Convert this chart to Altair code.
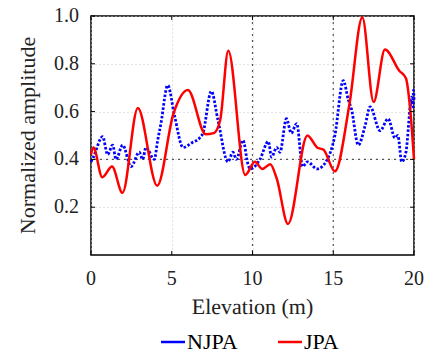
import altair as alt
import pandas as pd

# ---- data ----
jpa_x = [0, 0.15, 0.7, 1.3, 1.95, 2.9, 4.1, 5.1, 6.0, 7.1, 7.6, 8.0, 8.5, 9.55, 10.15,
         10.6, 11.1, 11.5, 12.2, 13.4, 14.0, 14.4, 15.1, 16.0, 16.8, 17.5, 18.2, 19.1,
         19.5, 19.75, 20.0]
jpa_y = [0.42, 0.45, 0.325, 0.37, 0.26, 0.615, 0.29, 0.59, 0.69, 0.505, 0.51, 0.565,
         0.855, 0.335, 0.39, 0.36, 0.38, 0.32, 0.13, 0.50, 0.45, 0.44, 0.35, 0.63, 0.995,
         0.64, 0.86, 0.77, 0.74, 0.62, 0.40]

njpa_x = [0, 0.15, 0.72, 1.03, 1.34, 1.55, 1.96, 2.48, 2.99, 3.2, 3.4, 3.92, 4.13, 4.33,
          4.75, 5.18, 5.7, 6.26, 6.73, 6.93, 7.45, 7.86, 8.48, 8.79, 9.0, 9.41, 9.72,
          9.85, 10.46, 10.98, 11.18, 11.5, 11.7, 12.1, 12.4, 12.74, 13.1, 13.4, 14.0,
          14.55, 15.1, 15.62, 15.93, 16.13, 16.55, 16.97, 17.28, 17.9, 18.4, 18.82, 19.0,
          19.24, 19.5, 19.86, 19.93, 19.97, 20.0]
njpa_y = [0.39, 0.41, 0.495, 0.42, 0.46, 0.40, 0.46, 0.37, 0.43, 0.40, 0.45, 0.40, 0.48,
          0.55, 0.71, 0.58, 0.45, 0.47, 0.49, 0.51, 0.685, 0.565, 0.39, 0.43, 0.40, 0.48,
          0.38, 0.36, 0.40, 0.475, 0.41, 0.45, 0.43, 0.57, 0.51, 0.55, 0.37, 0.39, 0.36,
          0.39, 0.50, 0.73, 0.65, 0.61, 0.46, 0.54, 0.62, 0.52, 0.57, 0.49, 0.50, 0.39,
          0.43, 0.66, 0.62, 0.69, 0.65]

series_names = ["NJPA", "JPA"]
series_colors = ["#0000ff", "#ff0000"]
x_ticks = [0, 5, 10, 15, 20]
y_ticks = [0.2, 0.4, 0.6, 0.8, 1.0]
ref_x = [10, 15]
ref_y = [0.4]
x_title = "Elevation (m)"
y_title = "Normalized amplitude"

FONT = "Liberation Serif"
TXT = "#222222"
W, H = 323, 239

df_j = pd.DataFrame({"x": jpa_x, "y": jpa_y, "s": series_names[1]})
df_n = pd.DataFrame({"x": njpa_x, "y": njpa_y, "s": series_names[0]})

xs = alt.Scale(domain=[0, 20], nice=False)
ys = alt.Scale(domain=[0, 1.0], nice=False)
cs = alt.Scale(domain=series_names, range=series_colors)

xaxis = alt.Axis(values=x_ticks, title=None, labels=False, ticks=False, domain=False, grid=True)
yaxis = alt.Axis(values=y_ticks, title=None, labels=False, ticks=False, domain=False, grid=True)

base_frame = alt.Chart(pd.DataFrame({"v": [0]})).mark_point(opacity=0).encode(
    x=alt.X("v:Q", scale=xs, axis=xaxis),
    y=alt.Y("v:Q", scale=ys, axis=yaxis),
)

rx = alt.Chart(pd.DataFrame({"v": ref_x})).mark_rule(
    color="#555555", strokeDash=[2, 4], strokeWidth=1.2
).encode(x=alt.X("v:Q", scale=xs))
ry = alt.Chart(pd.DataFrame({"v": ref_y})).mark_rule(
    color="#555555", strokeDash=[2, 4], strokeWidth=1.2
).encode(y=alt.Y("v:Q", scale=ys))

red = alt.Chart(df_j).mark_line(strokeWidth=2.5, interpolate="monotone").encode(
    x=alt.X("x:Q", scale=xs),
    y=alt.Y("y:Q", scale=ys),
    color=alt.Color("s:N", scale=cs, legend=None),
)
blue = alt.Chart(df_n).mark_line(strokeWidth=2.8, interpolate="monotone",
                                 strokeDash=[2.5, 1.8]).encode(
    x=alt.X("x:Q", scale=xs),
    y=alt.Y("y:Q", scale=ys),
    color=alt.Color("s:N", scale=cs, legend=None),
)

# inward tick marks on all four sides
ytk = pd.DataFrame({"v": y_ticks})
xtk = pd.DataFrame({"v": x_ticks})
tl = alt.Chart(ytk).mark_rule(color="black", strokeWidth=1).encode(
    y=alt.Y("v:Q", scale=ys), x=alt.value(0), x2=alt.value(4))
tr = alt.Chart(ytk).mark_rule(color="black", strokeWidth=1).encode(
    y=alt.Y("v:Q", scale=ys), x=alt.value(W - 4), x2=alt.value(W))
tb = alt.Chart(xtk).mark_rule(color="black", strokeWidth=1).encode(
    x=alt.X("v:Q", scale=xs), y=alt.value(H), y2=alt.value(H - 4))
tt = alt.Chart(xtk).mark_rule(color="black", strokeWidth=1).encode(
    x=alt.X("v:Q", scale=xs), y=alt.value(0), y2=alt.value(4))

# tick labels and titles as text marks
xlab = alt.Chart(xtk).mark_text(font="Times New Roman", fontSize=20, color=TXT, align="center",
                                baseline="alphabetic").encode(
    x=alt.X("v:Q", scale=xs), y=alt.value(H + 30),
    text=alt.Text("v:Q", format="d"))
ylab = alt.Chart(ytk).mark_text(font="serif", fontSize=20, color=TXT, align="right",
                                baseline="middle").encode(
    y=alt.Y("v:Q", scale=ys), x=alt.value(-12),
    text=alt.Text("v:Q", format=".1f"))
xtit = alt.Chart(pd.DataFrame({"t": [x_title]})).mark_text(
    font=FONT, fontSize=22, color=TXT, align="center", baseline="alphabetic",
    angle=359.9).encode(
    x=alt.value(W / 2), y=alt.value(H + 59), text="t:N")
ytit = alt.Chart(pd.DataFrame({"t": [y_title]})).mark_text(
    font=FONT, fontSize=22, color=TXT, align="center", baseline="middle", angle=270).encode(
    x=alt.value(-63), y=alt.value(H / 2), text="t:N")

# legend drawn by hand
leg_sym_x = [70, 187]
leg_df = pd.DataFrame({"s": series_names, "x0": leg_sym_x,
                       "x1": [v + 24 for v in leg_sym_x], "xt": [v + 26 for v in leg_sym_x]})
leg_sym = alt.Chart(leg_df).mark_rule(strokeWidth=2.5).encode(
    x=alt.X("x0:Q", scale=None), x2="x1:Q", y=alt.value(H + 87),
    color=alt.Color("s:N", scale=cs, legend=None))
leg_txt = alt.Chart(leg_df).mark_text(font=FONT, fontSize=22, align="left",
                                      baseline="middle").encode(
    x=alt.X("xt:Q", scale=None), y=alt.value(H + 87), text="s:N")

chart = alt.layer(base_frame, rx, ry, blue, red, tl, tr, tb, tt,
                  xlab, ylab, xtit, ytit, leg_sym, leg_txt).properties(
    width=W, height=H,
    padding={"left": 91, "top": 16, "right": 14, "bottom": 101},
    autosize=alt.AutoSizeParams(type="none"),
    background="white",
).configure_view(
    stroke="black", strokeWidth=1.5
).configure_axis(
    gridColor="#c8c8c8", gridDash=[1, 3], gridWidth=1,
)

chart.save("out.html", embed_options={"renderer": "svg", "actions": False})
